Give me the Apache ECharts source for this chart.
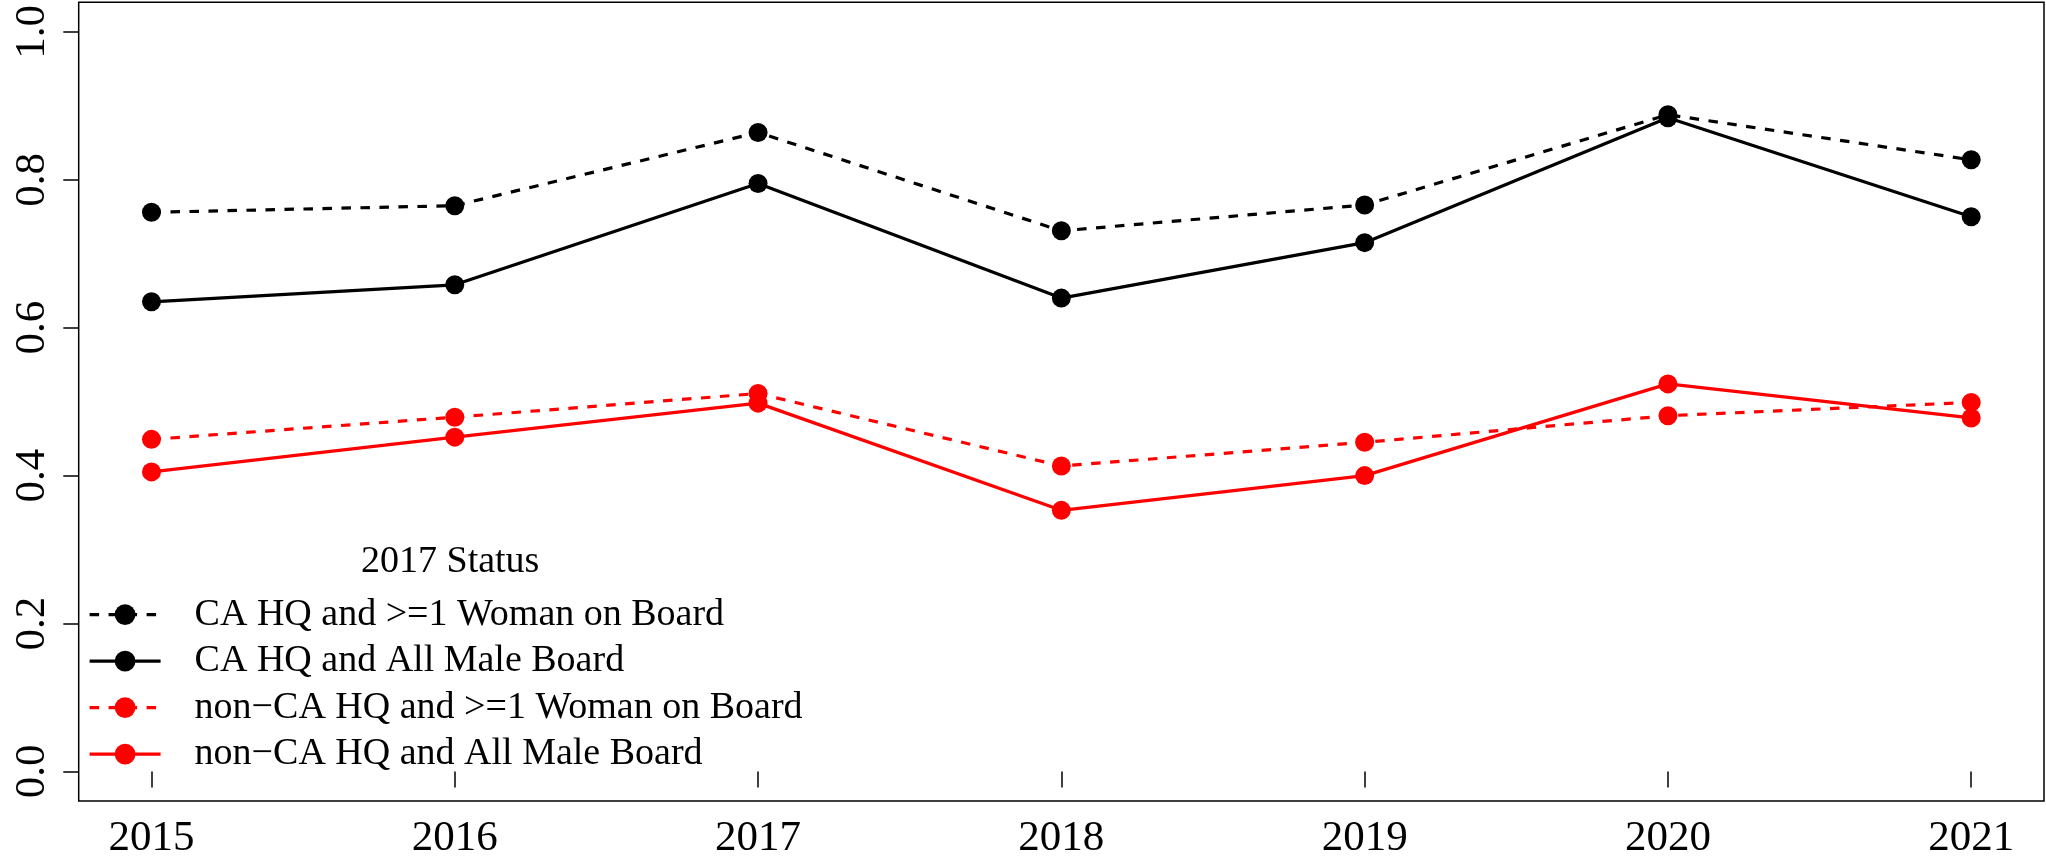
<!DOCTYPE html>
<html>
<head>
<meta charset="utf-8">
<script src="https://cdn.jsdelivr.net/npm/echarts@6/dist/echarts.min.js"></script>
<style>
  html, body { margin: 0; padding: 0; background: #fff; }
  #chart { width: 2046px; height: 863px; }
</style>
</head>
<body>
<div id="chart"></div>
<script>
const years = [2015, 2016, 2017, 2018, 2019, 2020, 2021];
const yTicks = [0.0, 0.2, 0.4, 0.6, 0.8, 1.0];
const legendTitle = '2017 Status';
const seriesNames = [
  'CA HQ and >=1 Woman on Board',
  'CA HQ and All Male Board',
  'non\u2212CA HQ and >=1 Woman on Board',
  'non\u2212CA HQ and All Male Board'
];
const caWoman    = [0.756, 0.765, 0.864, 0.731, 0.766, 0.888, 0.827];
const caMale     = [0.635, 0.658, 0.795, 0.640, 0.715, 0.884, 0.750];
const nonCaWoman = [0.449, 0.479, 0.511, 0.413, 0.445, 0.481, 0.499];
const nonCaMale  = [0.405, 0.452, 0.498, 0.353, 0.400, 0.524, 0.478];

const FONT = 'Liberation Serif';
const pairs = vals => years.map((y, i) => [y, vals[i]]);

function mkSeries(name, vals, color, dashed) {
  return {
    name: name,
    type: 'line',
    data: pairs(vals),
    symbol: 'circle',
    symbolSize: 19,
    showSymbol: true,
    animation: false,
    itemStyle: { color: color, borderWidth: 0 },
    lineStyle: { color: color, width: 3.2, type: dashed ? [9.5, 9.5] : 'solid', cap: 'butt' },
    emphasis: { disabled: true }
  };
}

const chart = echarts.init(document.getElementById('chart'), null, { renderer: 'canvas' });
chart.setOption({
  backgroundColor: '#ffffff',
  animation: false,
  title: {
    text: legendTitle,
    left: 361,
    top: 543,
    padding: 0,
    textStyle: { fontFamily: FONT, fontSize: 38, fontWeight: 'normal', color: '#000' }
  },
  legend: {
    orient: 'vertical',
    left: 88,
    top: 594.6,
    padding: 0,
    itemWidth: 71,
    itemHeight: 26,
    itemGap: 6.5,
    selectedMode: false,
    data: seriesNames,
    lineStyle: { width: 3.2 },
    textStyle: { fontFamily: FONT, fontSize: 38, color: '#000', lineHeight: 40, padding: [0, 0, 0, 29] }
  },
  grid: {
    left: 78.7, right: 2, top: 2.3, bottom: 62,
    show: true, borderColor: '#000', borderWidth: 1.5, backgroundColor: 'transparent'
  },
  xAxis: {
    type: 'value',
    min: 2014.76, max: 2021.24,
    axisLine: { show: false },
    splitLine: { show: false },
    axisTick: { show: true, customValues: years, length: 16, inside: false, lineStyle: { color: '#000', width: 1.5 } },
    axisLabel: { customValues: years, formatter: v => String(v), fontFamily: FONT, fontSize: 43, color: '#000', margin: 16.5 }
  },
  yAxis: {
    type: 'value',
    min: -0.04, max: 1.04,
    axisLine: { show: false },
    splitLine: { show: false },
    axisTick: { show: true, customValues: yTicks, length: 15.4, inside: false, lineStyle: { color: '#000', width: 1.5 } },
    axisLabel: { customValues: yTicks, formatter: v => v.toFixed(1), rotate: 90, fontFamily: FONT, fontSize: 43, color: '#000', margin: 24 }
  },
  series: [
    mkSeries(seriesNames[0], caWoman, '#000000', true),
    mkSeries(seriesNames[1], caMale, '#000000', false),
    mkSeries(seriesNames[2], nonCaWoman, '#ff0000', true),
    mkSeries(seriesNames[3], nonCaMale, '#ff0000', false)
  ]
});
</script>
</body>
</html>
